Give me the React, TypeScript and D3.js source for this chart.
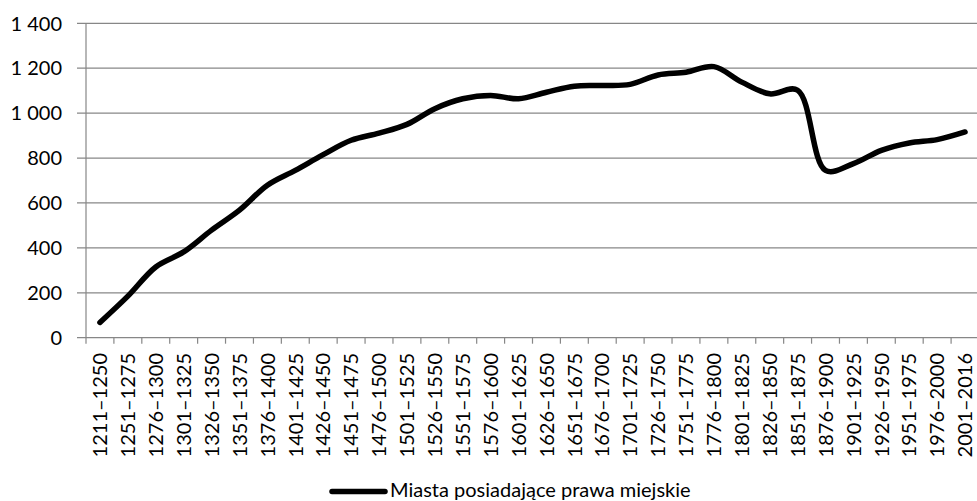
import React from "react";
import * as d3 from "d3";

const categories: string[] = [
  "1211–1250", "1251–1275", "1276–1300", "1301–1325", "1326–1350", "1351–1375",
  "1376–1400", "1401–1425", "1426–1450", "1451–1475", "1476–1500", "1501–1525",
  "1526–1550", "1551–1575", "1576–1600", "1601–1625", "1626–1650", "1651–1675",
  "1676–1700", "1701–1725", "1726–1750", "1751–1775", "1776–1800", "1801–1825",
  "1826–1850", "1851–1875", "1876–1900", "1901–1925", "1926–1950", "1951–1975",
  "1976–2000", "2001–2016",
];

const towns: number[] = [
  68, 185, 315, 382, 479, 568, 679, 745, 815, 879, 911, 950, 1020, 1064, 1079,
  1064, 1093, 1120, 1123, 1128, 1170, 1182, 1207, 1138, 1086, 1102, 745, 775,
  834, 867, 882, 916,
];

const yTicks: number[] = [0, 200, 400, 600, 800, 1000, 1200, 1400];
const seriesName = "Miasta posiadające prawa miejskie";

const W = 977;
const H = 501;
const left = 86;
const right = 979;
const top = 23.3;
const bottom = 337.7;
const font = "Lato, 'Open Sans', sans-serif";

export default function App() {
  const x = d3.scaleBand<string>().domain(categories).range([left, right]);
  const y = d3.scaleLinear().domain([0, 1400]).range([bottom, top]);
  const fmt = (v: number) => d3.format(",")(v).replace(/,/g, " ");
  const line = d3
    .line<number>()
    .x((_, i) => (x(categories[i]) as number) + x.bandwidth() / 2)
    .y((d) => y(d))
    .curve(d3.curveCatmullRom.alpha(0.5));

  const grid = "#878787";
  return (
    <svg
      width={W}
      height={H}
      style={{ position: "absolute", left: 0, top: 0, background: "#fff" }}
      fontFamily={font}
    >
      {yTicks.map((t) => (
        <g key={t}>
          <line x1={77} x2={right} y1={y(t)} y2={y(t)} stroke={grid} strokeWidth={1.2} />
          <text x={62} y={y(t)} dy="0.36em" textAnchor="end" fontSize={20} fill="#000">
            {fmt(t)}
          </text>
        </g>
      ))}
      <line x1={left} x2={left} y1={top} y2={bottom + 6} stroke={grid} strokeWidth={1.2} />
      {categories.map((c, i) => (
        <line
          key={"t" + i}
          x1={(x(c) as number) + x.bandwidth()}
          x2={(x(c) as number) + x.bandwidth()}
          y1={bottom}
          y2={bottom + 6}
          stroke={grid}
          strokeWidth={1.2}
        />
      ))}
      {categories.map((c) => {
        const cx = (x(c) as number) + x.bandwidth() / 2;
        return (
          <text
            key={c}
            transform={`translate(${cx},353) rotate(-90)`}
            textAnchor="end"
            dy="0.36em"
            fontSize={20}
            fill="#000"
          >
            {c}
          </text>
        );
      })}
      <path
        d={line(towns) || ""}
        fill="none"
        stroke="#000"
        strokeWidth={5.5}
        strokeLinecap="round"
        strokeLinejoin="round"
      />
      <line x1={332} x2={385} y1={491.5} y2={491.5} stroke="#000" strokeWidth={5.5} strokeLinecap="round" />
      <text x={390} y={497} fontSize={20} fill="#000">
        {seriesName}
      </text>
    </svg>
  );
}
